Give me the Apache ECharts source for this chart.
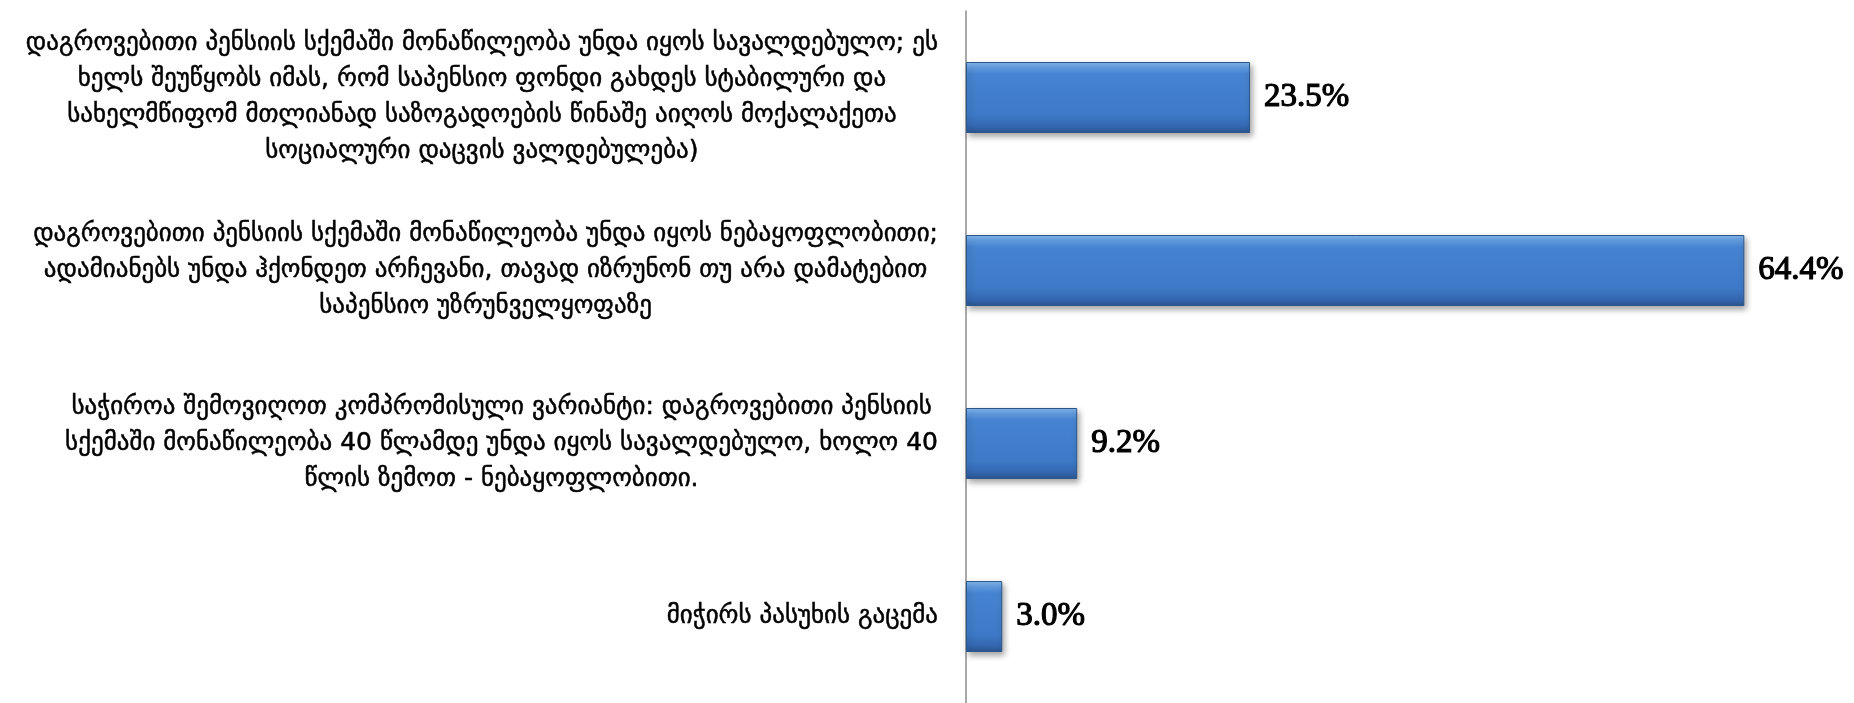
<!DOCTYPE html>
<html>
<head>
<meta charset="utf-8">
<script src="https://cdn.jsdelivr.net/npm/echarts@6/dist/echarts.min.js"></script>
<style>
  html, body { margin: 0; padding: 0; background: #ffffff; }
  #chart { width: 1854px; height: 703px; }
</style>
</head>
<body>
<div id="chart"></div>
<script>
const categories = [
  "დაგროვებითი პენსიის სქემაში მონაწილეობა უნდა იყოს სავალდებულო; ეს\nხელს შეუწყობს იმას, რომ საპენსიო ფონდი გახდეს სტაბილური და\nსახელმწიფომ მთლიანად საზოგადოების წინაშე აიღოს მოქალაქეთა\nსოციალური დაცვის ვალდებულება)",
  "დაგროვებითი პენსიის სქემაში მონაწილეობა უნდა იყოს ნებაყოფლობითი;\nადამიანებს უნდა ჰქონდეთ არჩევანი, თავად იზრუნონ თუ არა დამატებით\nსაპენსიო უზრუნველყოფაზე",
  "საჭიროა შემოვიღოთ კომპრომისული ვარიანტი: დაგროვებითი პენსიის\nსქემაში მონაწილეობა 40 წლამდე უნდა იყოს სავალდებულო, ხოლო 40\nწლის ზემოთ - ნებაყოფლობითი.",
  "მიჭირს პასუხის გაცემა"
];
const values = [23.5, 64.4, 9.2, 3.0];

const chart = echarts.init(document.getElementById('chart'), null, { renderer: 'canvas' });
const labelFont = '"DejaVu Sans", "Noto Sans", sans-serif';
chart.setOption({
  backgroundColor: '#ffffff',
  animation: false,
  grid: { left: 966, right: 42, top: 11, bottom: -4, containLabel: false },
  xAxis: {
    type: 'value', min: 0, max: 70,
    axisLine: { show: false }, axisTick: { show: false },
    axisLabel: { show: false }, splitLine: { show: false }
  },
  yAxis: {
    type: 'category', inverse: true, data: categories,
    axisLine: { show: true, lineStyle: { color: '#8c8c8c', width: 1.5 } },
    axisTick: { show: false },
    axisLabel: {
      interval: 0, margin: 28, align: 'right',
      color: '#000', fontFamily: labelFont, fontSize: 25, lineHeight: 36,
      formatter: function (v) {
        return v.split('\n').map(function (l) { return '{c|' + l + '}'; }).join('\n');
      },
      rich: { c: { align: 'center', color: '#000', fontFamily: labelFont, fontSize: 25, lineHeight: 36,
                   textBorderColor: '#000', textBorderWidth: 0.5 } }
    }
  },
  series: [{
    type: 'bar', data: values, barWidth: 71,
    itemStyle: {
      color: new echarts.graphic.LinearGradient(0, 0, 0, 1, [
        { offset: 0, color: '#86b9f0' },
        { offset: 0.09, color: '#5f9ae0' },
        { offset: 0.17, color: '#4683d0' },
        { offset: 0.75, color: '#3d79c6' },
        { offset: 0.9, color: '#3568b2' },
        { offset: 1, color: '#2b5690' }
      ]),
      borderColor: '#2c5789', borderWidth: 1,
      shadowColor: 'rgba(0,0,0,0.35)', shadowBlur: 6, shadowOffsetX: 2, shadowOffsetY: 3
    },
    label: {
      show: true, position: 'right', distance: 14,
      color: '#000', fontFamily: '"Liberation Serif", serif', fontWeight: 'normal', fontSize: 33,
      textBorderColor: '#000', textBorderWidth: 1.2,
      formatter: function (p) { return p.value.toFixed(1) + '%'; }
    }
  }]
});
</script>
</body>
</html>
